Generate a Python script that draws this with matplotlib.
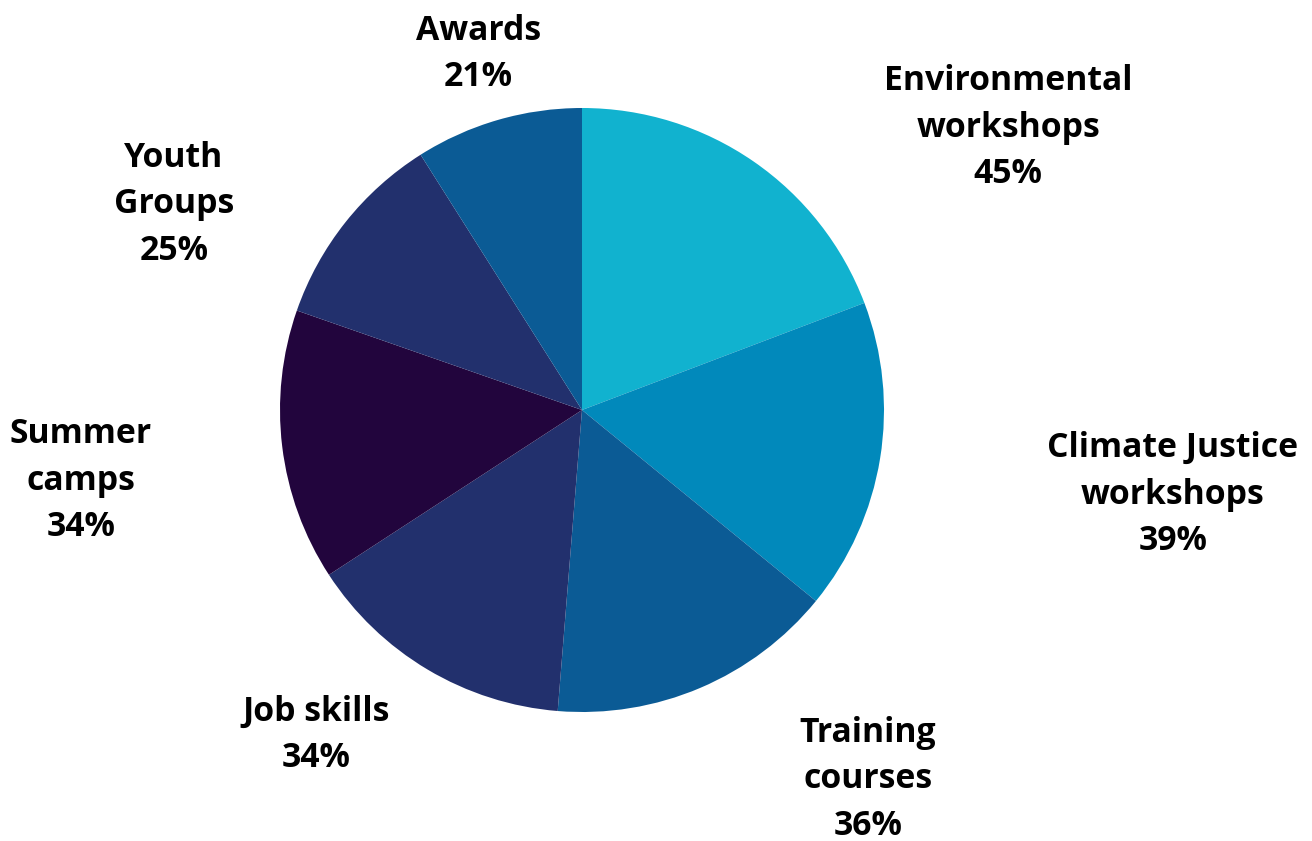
import matplotlib.pyplot as plt

labels = ['Environmental\nworkshops', 'Climate Justice\nworkshops', 'Training\ncourses',
          'Job skills', 'Summer\ncamps', 'Youth\nGroups', 'Awards']
values = [45, 39, 36, 34, 34, 25, 21]
colors = ['#11B2CF', '#0189BB', '#0B5B95', '#22306D', '#22053D', '#22306D', '#0B5B95']

# label centres in axis units (pie radius = 1)
label_pos = [(1.411, 0.934), (1.957, -0.281), (0.947, -1.222), (-0.881, -1.076),
             (-1.659, -0.235), (-1.351, 0.682), (-0.344, 1.179)]

W, H = 1312, 841
cx, cy, r = 582, 410, 302

fig = plt.figure(figsize=(W / 100, H / 100), dpi=100)
ax = fig.add_axes([(cx - r) / W, (H - cy - r) / H, 2 * r / W, 2 * r / H])
ax.pie(values, colors=colors, startangle=90, counterclock=False, radius=1,
       wedgeprops=dict(linewidth=0))
ax.set_xlim(-1, 1)
ax.set_ylim(-1, 1)
ax.set_aspect('equal')
ax.axis('off')

for lab, v, (x, y) in zip(labels, values, label_pos):
    ax.text(x, y, f'{lab}\n{v}%', ha='center', va='center', fontsize=24.3,
            fontweight='bold', fontstretch='normal', family='Open Sans',
            linespacing=1.48, clip_on=False)

fig.savefig('out.png', dpi=100)
